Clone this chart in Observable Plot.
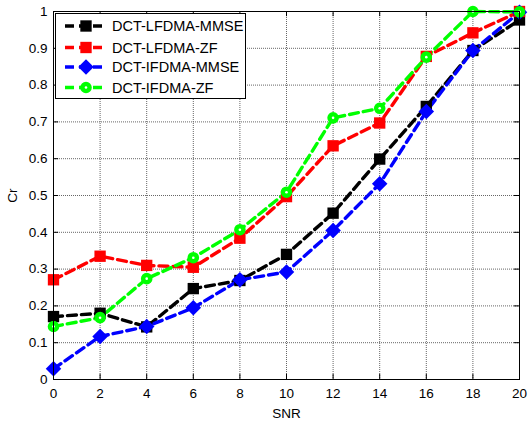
<!DOCTYPE html>
<html>
<head>
<meta charset="utf-8">
<script src="https://cdn.jsdelivr.net/npm/d3@7"></script>
<script src="https://cdn.jsdelivr.net/npm/@observablehq/plot@0.6"></script>
<style>
  html, body { margin: 0; padding: 0; background: #fff; }
  #chart { width: 528px; height: 423px; }
  #chart svg text { font-family: 'Liberation Sans', Arial, sans-serif; }
</style>
</head>
<body>
<div id="chart"></div>
<script>
const snr = [0, 2, 4, 6, 8, 10, 12, 14, 16, 18, 20];
const seriesNames = ["DCT-LFDMA-MMSE", "DCT-LFDMA-ZF", "DCT-IFDMA-MMSE", "DCT-IFDMA-ZF"];
const lfdmaMmse = [0.171, 0.180, 0.143, 0.247, 0.269, 0.340, 0.452, 0.599, 0.742, 0.894, 0.977];
const lfdmaZf   = [0.271, 0.335, 0.310, 0.305, 0.384, 0.497, 0.635, 0.697, 0.878, 0.942, 1.000];
const ifdmaMmse = [0.029, 0.117, 0.144, 0.195, 0.271, 0.292, 0.405, 0.532, 0.728, 0.894, 0.998];
const ifdmaZf   = [0.144, 0.168, 0.274, 0.331, 0.407, 0.509, 0.711, 0.737, 0.876, 1.000, 0.999];
const xTicks = [0, 2, 4, 6, 8, 10, 12, 14, 16, 18, 20];
const yTicks = [0, 0.1, 0.2, 0.3, 0.4, 0.5, 0.6, 0.7, 0.8, 0.9, 1];
const yTickLabels = ["0", "0.1", "0.2", "0.3", "0.4", "0.5", "0.6", "0.7", "0.8", "0.9", "1"];
const colors = ["#000000", "#ff0000", "#0000ff", "#00ff00"];

const allSeries = [lfdmaMmse, lfdmaZf, ifdmaMmse, ifdmaZf];
const data = [];
allSeries.forEach((vals, i) => vals.forEach((v, j) => data.push({name: seriesNames[i], x: snr[j], y: v})));

// rotated square (MATLAB-style diamond)
const diamond = {
  draw(ctx, size) {
    const h = Math.sqrt(size / 2);
    ctx.moveTo(0, -h); ctx.lineTo(h, 0); ctx.lineTo(0, h); ctx.lineTo(-h, 0); ctx.closePath();
  }
};
const symbols = {"DCT-LFDMA-MMSE": "square", "DCT-LFDMA-ZF": "square", "DCT-IFDMA-MMSE": diamond, "DCT-IFDMA-ZF": "circle"};
const radii = {"DCT-LFDMA-MMSE": 6.4, "DCT-LFDMA-ZF": 6.4, "DCT-IFDMA-MMSE": 6.2, "DCT-IFDMA-ZF": 5.8};
const colorOf = Object.fromEntries(seriesNames.map((n, i) => [n, colors[i]]));

const marks = [
  Plot.ruleX(xTicks, {stroke: "#666", strokeDasharray: "1,1", strokeWidth: 1}),
  Plot.ruleY(yTicks, {stroke: "#666", strokeDasharray: "1,1", strokeWidth: 1}),
  Plot.ruleX(xTicks, {y1: 0, y2: 0.014, stroke: "black"}),
  Plot.ruleX(xTicks, {y1: 1, y2: 0.986, stroke: "black"}),
  Plot.ruleY(yTicks, {x1: 0, x2: 0.22, stroke: "black"}),
  Plot.ruleY(yTicks, {x1: 20, x2: 19.78, stroke: "black"}),
  Plot.axisX(xTicks, {tickSize: 0, tickPadding: 9, fontSize: 13.5, label: "SNR", labelAnchor: "center", labelArrow: "none", labelOffset: 38}),
  Plot.axisY(yTicks, {tickSize: 0, tickPadding: 6, fontSize: 13.5, tickFormat: d => yTickLabels[yTicks.indexOf(d)], label: "Cr", labelAnchor: "center", labelArrow: "none", labelOffset: 46}),
];
seriesNames.forEach((name) => {
  const d = data.filter(r => r.name === name);
  marks.push(Plot.line(d, {x: "x", y: "y", stroke: colorOf[name], strokeWidth: 3.4, strokeDasharray: "9,5"}));
});
seriesNames.forEach((name) => {
  const d = data.filter(r => r.name === name);
  marks.push(Plot.dot(d, {x: "x", y: "y", symbol: () => symbols[name], r: radii[name], fill: colorOf[name], stroke: "none"}));
  if (name === "DCT-IFDMA-ZF") {
    marks.push(Plot.dot(d, {x: "x", y: "y", r: 1.3, fill: "white", stroke: "none"}));
  }
});
marks.push(Plot.frame({stroke: "black", strokeWidth: 1}));

const chart = Plot.plot({
  width: 528,
  height: 423,
  marginLeft: 53,
  marginRight: 9,
  marginTop: 11,
  marginBottom: 44,
  style: {fontFamily: "'Liberation Sans', Arial, sans-serif", fontSize: "13px", background: "white", color: "black"},
  symbol: {type: "identity"},
  x: {domain: [0, 20]},
  y: {domain: [0, 1]},
  marks
});
document.getElementById("chart").appendChild(chart);

// legend box (inside plot, upper left)
const svg = d3.select(chart);
const lg = svg.append("g");
lg.append("rect").attr("x", 55.5).attr("y", 13.5).attr("width", 190).attr("height", 85)
  .attr("fill", "white").attr("stroke", "black").attr("stroke-width", 1);
const rowY = [26, 47.5, 67, 87.5];
seriesNames.forEach((name, i) => {
  const c = colorOf[name];
  lg.append("line").attr("x1", 65).attr("x2", 107).attr("y1", rowY[i]).attr("y2", rowY[i])
    .attr("stroke", c).attr("stroke-width", 3.4).attr("stroke-dasharray", "9,5");
  const sym = symbols[name] === "square" ? d3.symbolSquare : (symbols[name] === "circle" ? d3.symbolCircle : diamond);
  lg.append("path").attr("d", d3.symbol(sym, Math.PI * radii[name] * radii[name])())
    .attr("transform", `translate(86,${rowY[i]})`).attr("fill", c);
  if (name === "DCT-IFDMA-ZF") {
    lg.append("circle").attr("cx", 86).attr("cy", rowY[i]).attr("r", 1.3).attr("fill", "white");
  }
  lg.append("text").attr("x", 112).attr("y", rowY[i]).attr("dy", "0.35em")
    .attr("text-anchor", "start").style("font-size", "14.5px").attr("fill", "black").text(name);
});
</script>
</body>
</html>
